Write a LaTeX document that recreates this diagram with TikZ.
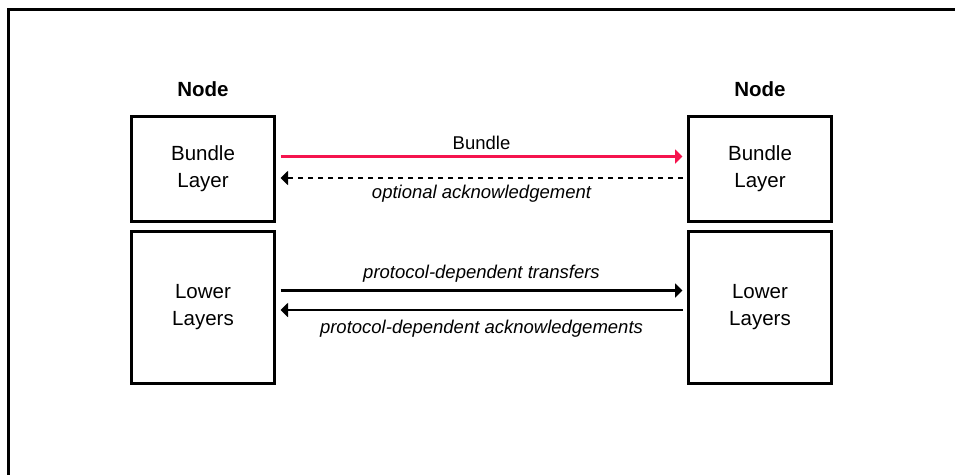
\documentclass[tikz,border=0pt]{standalone}
\usepackage{fontspec}
\setmainfont{Liberation Sans}
\usetikzlibrary{arrows.meta}
\definecolor{bundlered}{RGB}{245,20,78}
\tikzset{
  layerbox/.style={draw=black, line width=3pt, minimum width=143pt, outer sep=0pt, inner sep=0pt,
    align=center, font=\fontsize{20.5}{26.6}\selectfont},
  nodelabel/.style={font=\fontsize{20.5}{24}\selectfont\bfseries, inner sep=0pt},
  conn/.style={line width=2.7pt, shorten <=6pt, shorten >=6pt, -{Triangle[length=7.5pt,width=14pt]}},
  lbl/.style={font=\fontsize{18.5}{22}\selectfont\itshape, inner sep=0pt},
  lblup/.style={font=\fontsize{18.5}{22}\selectfont, inner sep=0pt}
}
\begin{document}
\begin{tikzpicture}[x=1pt,y=-1pt]
\useasboundingbox (0,0) rectangle (955,474);
% outer frame (top and left)
\draw[line width=3pt] (8,476) -- (8,9) -- (957,9);
% boxes
\node[layerbox, minimum height=105pt] (bl) at (203,168.5) {Bundle\\Layer};
\node[layerbox, minimum height=152pt] (ll) at (203,307) {Lower\\Layers};
\node[layerbox, minimum height=105pt] (br) at (760,168.5) {Bundle\\Layer};
\node[layerbox, minimum height=152pt] (lr) at (760,307) {Lower\\Layers};
% titles
\node[nodelabel] (nl) at ([yshift=26.5pt]bl.north) {Node};
\node[nodelabel] (nr) at ([yshift=26.5pt]br.north) {Node};
% connectors
\draw[conn, draw=bundlered, fill=bundlered, line width=2.4pt] ([yshift=12pt]bl.east) -- ([yshift=12pt]br.west)
  node[lblup, midway, yshift=13.2pt] {Bundle};
\draw[conn, dash pattern=on 5pt off 5pt] ([yshift=-9.5pt]br.west) -- ([yshift=-9.5pt]bl.east)
  node[lbl, midway, yshift=-15.5pt] {optional acknowledgement};
\draw[conn] ([yshift=16.5pt]ll.east) -- ([yshift=16.5pt]lr.west)
  node[lbl, midway, yshift=16.3pt] {protocol-dependent transfers};
\draw[conn] ([yshift=-3pt]lr.west) -- ([yshift=-3pt]ll.east)
  node[lbl, midway, yshift=-18.5pt] {protocol-dependent acknowledgements};
\end{tikzpicture}
\end{document}
